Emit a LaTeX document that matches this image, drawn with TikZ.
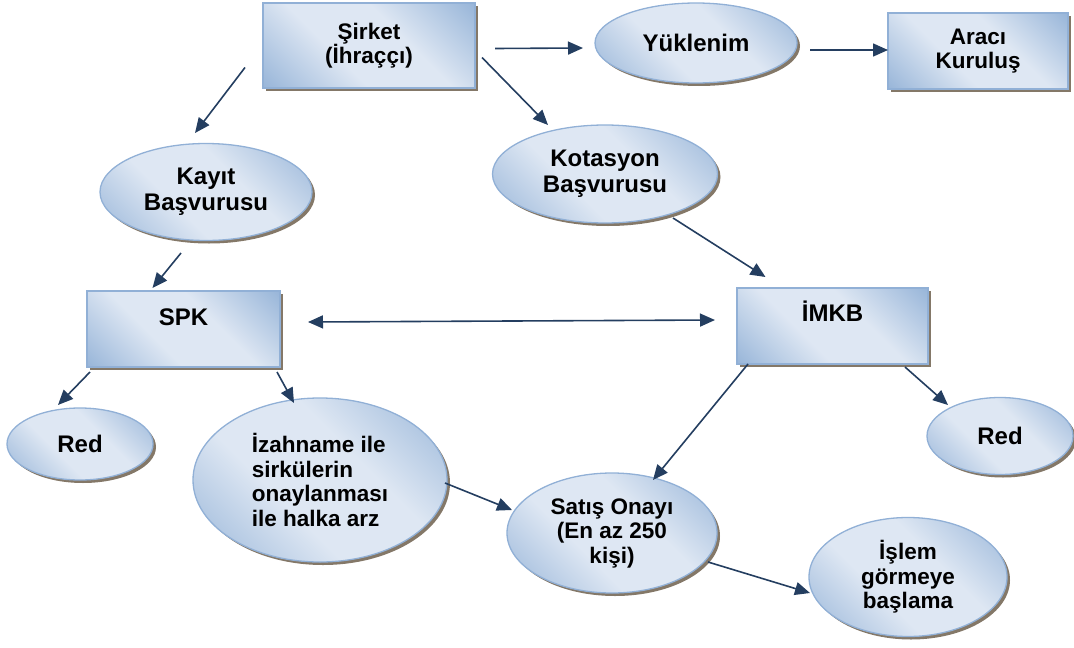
\documentclass[tikz,border=0pt]{standalone}
\usepackage{fontspec}
\setmainfont{Liberation Sans}
\usetikzlibrary{shapes.geometric,shadows,arrows.meta,calc}
\definecolor{offdk}{RGB}{150,180,216}
\definecolor{offlt}{RGB}{222,231,243}
\definecolor{edgecol}{RGB}{145,176,214}
\definecolor{arrcol}{RGB}{36,62,96}
\definecolor{shcol}{RGB}{110,96,78}
\pgfdeclarehorizontalshading{office}{100bp}{color(0bp)=(offdk); color(14bp)=(offdk); color(40bp)=(offlt); color(60bp)=(offlt); color(86bp)=(offdk); color(100bp)=(offdk)}
\tikzset{
  base/.style={draw=edgecol, line width=1.3pt, shading=office, shading angle=45,
    inner sep=0pt, outer sep=0pt, align=center,
    font=\bfseries\fontsize{22.5}{24.5}\selectfont,
    drop shadow={shadow xshift=3pt, shadow yshift=-3pt, fill=shcol, opacity=0.85}},
  boxnode/.style={base, rectangle},
  ellnode/.style={base, ellipse},
  big/.style={font=\bfseries\fontsize{24}{26}\selectfont},
  arr/.style={draw=arrcol, line width=1.6pt, -{Triangle[length=15pt,width=13pt]}},
  dblarr/.style={draw=arrcol, line width=1.6pt, {Triangle[length=15pt,width=13pt]}-{Triangle[length=15pt,width=13pt]}}
}
\begin{document}
\begin{tikzpicture}[x=1pt,y=-1pt]
\useasboundingbox (0,0) rectangle (1074,648);
% nodes
\node[boxnode, minimum width=212, minimum height=85] (sirket) at (369,45.5) {Şirket\\(İhraççı)};
\node[ellnode, big, minimum width=202, minimum height=80] (yuk) at (696,43) {Yüklenim};
\node[boxnode, minimum width=180, minimum height=76] (araci) at (978,51) {Aracı\\Kuruluş};
\node[ellnode, big, minimum width=212, minimum height=97] (kayit) at (206,192) {Kayıt\\Başvurusu};
\node[ellnode, big, minimum width=225, minimum height=98] (kot) at (605,174) {Kotasyon\\Başvurusu};
\node[boxnode, big, minimum width=193, minimum height=76, text height=17pt, text depth=24pt] (spk) at (183.5,329) {SPK};
\node[boxnode, big, minimum width=191, minimum height=76, text height=17pt, text depth=26pt] (imkb) at (832.5,326) {İMKB};
\node[ellnode, big, minimum width=146, minimum height=72] (redl) at (80,444) {Red};
\node[ellnode, big, minimum width=146, minimum height=77] (redr) at (1000,436) {Red};
\node[ellnode, minimum width=254, minimum height=164, align=left] (izah) at (320,480) {İzahname ile\\sirkülerin\\onaylanması\\ile halka arz};
\node[ellnode, minimum width=210, minimum height=120] (satis) at (612,533) {Satış Onayı\\(En az 250\\kişi)};
\node[ellnode, minimum width=198, minimum height=119] (islem) at (908,577) {İşlem\\görmeye\\başlama};
% connectors
\draw[arr] ($(sirket.east)+(20,3)$) -- ($(yuk.west)+(-12,5)$);
\draw[arr] ($(yuk.east)+(13,7)$) -- ($(araci.west)+(0,-1)$);
\draw[arr] ($(sirket.east)+(7,12)$) -- ($(kot.center)+(-57,-49)$);
\draw[arr] ($(sirket.west)+(-18,22)$) -- ($(kayit.center)+(-11,-59)$);
\draw[arr] ($(kayit.center)+(-25,61)$) -- ($(spk.north)+(-31,-3)$);
\draw[dblarr] ($(spk.east)+(28,-7)$) -- ($(imkb.west)+(-22,-6)$);
\draw[arr] ($(kot.center)+(68,44)$) -- ($(imkb.north)+(-67,-11)$);
\draw[arr] ($(spk.south west)+(3,5)$) -- ($(redl.center)+(-22,-39)$);
\draw[arr] ($(spk.south east)+(-3,5)$) -- ($(izah.center)+(-26,-77)$);
\draw[arr] ($(izah.center)+(125,3)$) -- ($(satis.center)+(-100,-23)$);
\draw[arr] ($(imkb.south west)+(11,0)$) -- ($(satis.center)+(41,-53)$);
\draw[arr] ($(imkb.south east)+(-23,3)$) -- ($(redr.center)+(-52,-31)$);
\draw[arr] ($(satis.center)+(96,29)$) -- ($(islem.center)+(-98,16)$);
\end{tikzpicture}
\end{document}
